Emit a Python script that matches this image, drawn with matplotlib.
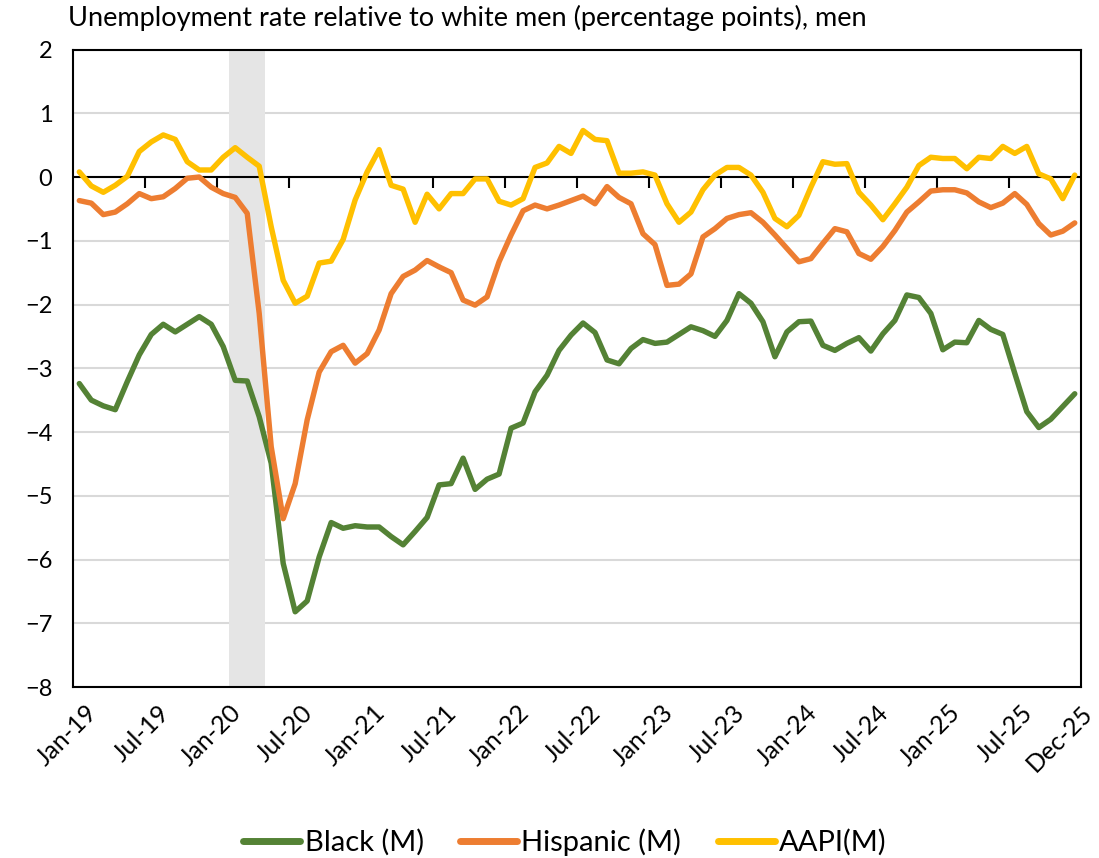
import matplotlib
matplotlib.use("Agg")
import matplotlib.pyplot as plt
import matplotlib.transforms as mtransforms
import pandas as pd

# ---- data ----
months = pd.date_range("2019-01-01", periods=84, freq="MS").strftime("%b-%y").tolist()

black = [-3.24, -3.50, -3.59, -3.65, -3.21, -2.79, -2.47, -2.31, -2.43, -2.31, -2.19, -2.31,
         -2.66, -3.19, -3.20, -3.76, -4.49, -6.06, -6.82, -6.65, -5.96, -5.42, -5.51, -5.47,
         -5.49, -5.49, -5.64, -5.77, -5.56, -5.34, -4.83, -4.81, -4.41, -4.90, -4.74, -4.66,
         -3.94, -3.86, -3.37, -3.11, -2.72, -2.48, -2.29, -2.44, -2.87, -2.93, -2.69, -2.55,
         -2.61, -2.59, -2.47, -2.35, -2.41, -2.50, -2.25, -1.83, -1.98, -2.27, -2.82, -2.43,
         -2.27, -2.26, -2.64, -2.72, -2.61, -2.52, -2.73, -2.46, -2.25, -1.85, -1.89, -2.14,
         -2.71, -2.59, -2.60, -2.25, -2.39, -2.47, -3.08, -3.68, -3.93, -3.80, -3.60, -3.40]

hispanic = [-0.37, -0.41, -0.59, -0.55, -0.42, -0.26, -0.34, -0.31, -0.18, -0.02, 0.00, -0.16,
            -0.26, -0.32, -0.57, -2.14, -4.23, -5.36, -4.81, -3.81, -3.06, -2.74, -2.64, -2.92,
            -2.77, -2.40, -1.83, -1.56, -1.46, -1.31, -1.41, -1.50, -1.93, -2.01, -1.88, -1.33,
            -0.91, -0.53, -0.44, -0.50, -0.44, -0.37, -0.30, -0.42, -0.15, -0.32, -0.42, -0.89,
            -1.06, -1.70, -1.68, -1.52, -0.94, -0.81, -0.65, -0.59, -0.56, -0.71, -0.91, -1.12,
            -1.33, -1.28, -1.04, -0.81, -0.86, -1.20, -1.29, -1.09, -0.84, -0.55, -0.39, -0.22,
            -0.20, -0.20, -0.25, -0.39, -0.48, -0.41, -0.26, -0.43, -0.73, -0.91, -0.85, -0.72]

aapi = [0.08, -0.14, -0.24, -0.13, 0.01, 0.40, 0.55, 0.66, 0.59, 0.24, 0.11, 0.11,
        0.31, 0.46, 0.31, 0.17, -0.78, -1.62, -1.98, -1.87, -1.35, -1.32, -0.98, -0.36,
        0.08, 0.43, -0.13, -0.19, -0.71, -0.27, -0.50, -0.26, -0.26, -0.03, -0.03, -0.38,
        -0.44, -0.34, 0.15, 0.22, 0.48, 0.37, 0.73, 0.59, 0.57, 0.06, 0.06, 0.08,
        0.03, -0.42, -0.71, -0.55, -0.20, 0.03, 0.15, 0.15, 0.03, -0.24, -0.65, -0.78,
        -0.60, -0.16, 0.24, 0.20, 0.21, -0.24, -0.44, -0.67, -0.42, -0.16, 0.18, 0.31,
        0.29, 0.29, 0.13, 0.31, 0.29, 0.48, 0.37, 0.48, 0.05, -0.03, -0.34, 0.03]

series_names = ["Black (M)", "Hispanic (M)", "AAPI(M)"]
series_colors = ["#548235", "#ED7D31", "#FFC000"]
recession_months = ["Feb-20", "Apr-20"]
label_months = ["Jan-19", "Jul-19", "Jan-20", "Jul-20", "Jan-21", "Jul-21", "Jan-22",
                "Jul-22", "Jan-23", "Jul-23", "Jan-24", "Jul-24", "Jan-25", "Jul-25", "Dec-25"]
y_ticks = [2, 1, 0, -1, -2, -3, -4, -5, -6, -7, -8]
title = "Unemployment rate relative to white men (percentage points), men"

# ---- plot ----
plt.rcParams["font.family"] = ["Lato", "DejaVu Sans"]

fig = plt.figure(figsize=(10.99, 8.58), dpi=100)
ax = fig.add_axes([0.0667, 0.1993, 0.9167, 0.743])

x = list(range(len(months)))
ax.set_xlim(-0.5, len(months) - 0.5)
ax.set_ylim(min(y_ticks), max(y_ticks))

# gridlines
ax.set_yticks(y_ticks)
ax.yaxis.grid(True, color="#d9d9d9", linewidth=1.5, zorder=0)
ax.set_axisbelow(True)
ax.tick_params(axis="y", length=0, labelsize=17, pad=15)

# recession shading
r0 = months.index(recession_months[0]) - 0.5
r1 = months.index(recession_months[1]) + 0.5
ax.axvspan(r0, r1, color="#e5e5e5", zorder=1, linewidth=0)

# zero (category) axis line
ax.axhline(0, color="black", linewidth=1.5, zorder=2)

handles = []
for vals, name, col in zip([black, hispanic, aapi], series_names, series_colors):
    h, = ax.plot(x, vals, color=col, linewidth=3.9, solid_joinstyle="round",
                 solid_capstyle="round", label=name, zorder=3)
    handles.append(h)

# bottom category labels
pos = [months.index(m) for m in label_months]
ax.set_xticks(pos)
ax.set_xticklabels(label_months, rotation=45, ha="right", va="top",
                   rotation_mode="anchor", fontsize=18)
ax.tick_params(axis="x", length=0, pad=10)
shift = mtransforms.ScaledTranslation(6 / 100, 0, fig.dpi_scale_trans)
for lab in ax.get_xticklabels():
    lab.set_transform(lab.get_transform() + shift)

# tick marks on the zero axis at category boundaries
zero_frac = (0 - min(y_ticks)) / (max(y_ticks) - min(y_ticks))
sec = ax.secondary_xaxis(zero_frac)
sec.set_xticks([i - 0.5 for i in range(6, len(months), 6)])
sec.set_xticklabels([])
sec.xaxis.set_ticks_position("bottom")
sec.tick_params(axis="x", which="both", direction="out", length=8, width=1.5,
                color="black", bottom=True, top=False, labelbottom=False, labeltop=False)
for s in sec.spines.values():
    s.set_visible(False)

for s in ax.spines.values():
    s.set_color("black")
    s.set_linewidth(1.5)
    s.set_zorder(4)

fig.text(68 / 1099, 1 - 18 / 858, title, fontsize=19.5, ha="left", va="center")

leg = fig.legend(handles=handles, labels=series_names, loc="center", ncol=3,
                 bbox_to_anchor=(565 / 1099, 1 - 842 / 858), frameon=False, fontsize=21,
                 handlelength=1.95, handletextpad=0.15, columnspacing=1.25)
for ln in leg.get_lines():
    ln.set_linewidth(5)

fig.savefig("out.png", dpi=100)
